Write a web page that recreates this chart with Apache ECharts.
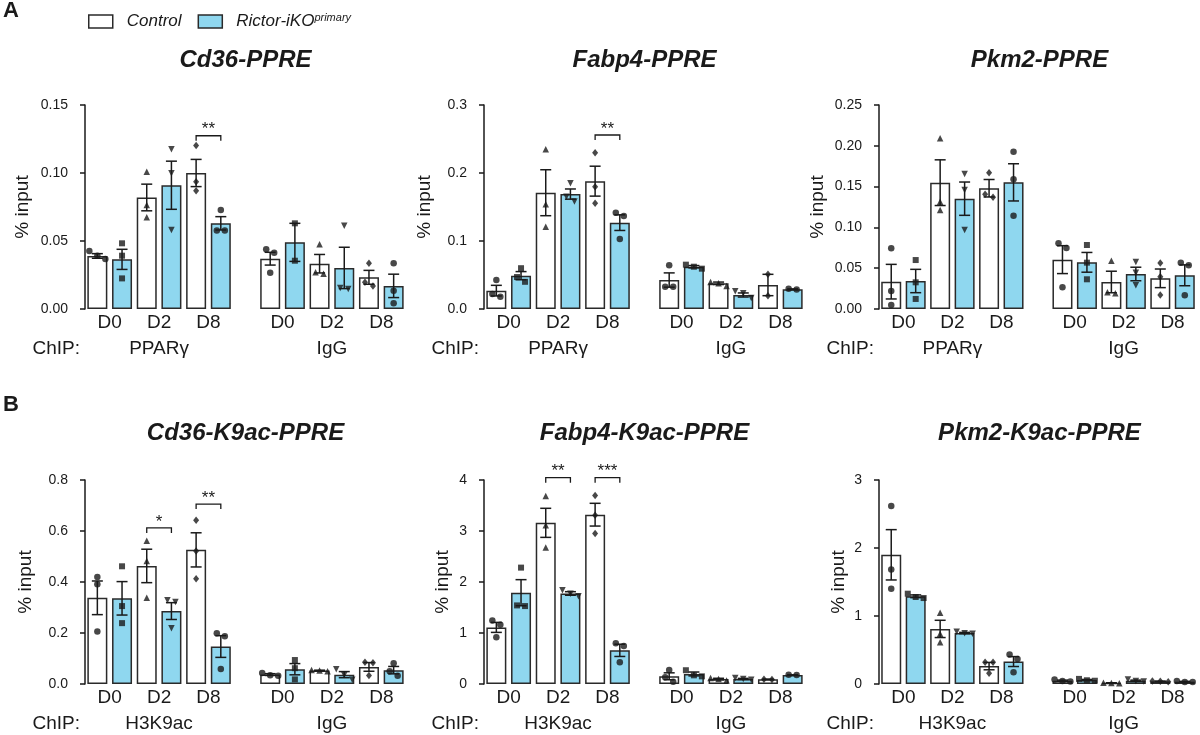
<!DOCTYPE html>
<html><head><meta charset="utf-8">
<script src="https://cdn.jsdelivr.net/npm/echarts@6/dist/echarts.min.js"></script>
<style>html,body{margin:0;padding:0;background:#fff}#c{width:1200px;height:735px}</style>
</head><body><div id="c"></div>
<script>
// ---------------- DATA ----------------
const timepoints = ['D0', 'D2', 'D8'];
const seriesNames = ['Control', 'Rictor-iKO'];
const chipTop = 'PPARγ';
const chipBottom = 'H3K9ac';
const chipIgG = 'IgG';
const panelTitles = ['Cd36-PPRE', 'Fabp4-PPRE', 'Pkm2-PPRE', 'Cd36-K9ac-PPRE', 'Fabp4-K9ac-PPRE', 'Pkm2-K9ac-PPRE'];
const yMaxes = [0.15, 0.3, 0.25, 0.8, 4, 3];
const ySteps = [0.05, 0.1, 0.05, 0.2, 1, 1];
const yDecimals = [2, 1, 2, 1, 0, 0];
// order in each array: [ChIP D0, D2, D8, IgG D0, D2, D8]
const cd36CtrlMean = [0.039, 0.082, 0.100, 0.037, 0.0333, 0.0233];
const cd36CtrlSem  = [0.0017, 0.0098, 0.010, 0.0047, 0.0068, 0.0051];
const cd36KoMean   = [0.0365, 0.091, 0.063, 0.049, 0.0302, 0.017];
const cd36KoSem    = [0.0074, 0.0177, 0.0049, 0.014, 0.0152, 0.0086];
const cd36CtrlPts  = [[0.0426,0.0392,0.0368],[0.101,0.0765,0.0674],[0.1203,0.0936,0.087],[0.0439,0.0414,0.0267],[0.0476,0.027,0.026],[0.0336,0.0196,0.0169]];
const cd36KoPts    = [[0.0483,0.0392,0.0225],[0.1174,0.0998,0.058],[0.0728,0.0578,0.0578],[0.063,0.0355],[0.0613,0.0154,0.0147],[0.0336,0.0135,0.0042]];

const fabp4CtrlMean = [0.027, 0.171, 0.188, 0.0426, 0.0378, 0.0353];
const fabp4CtrlSem  = [0.0078, 0.0338, 0.022, 0.0105, 0.0018, 0.0157];
const fabp4KoMean   = [0.049, 0.169, 0.127, 0.0622, 0.0206, 0.029];
const fabp4KoSem    = [0.006, 0.0075, 0.0115, 0.0017, 0.003, 0.0006];
const fabp4CtrlPts  = [[0.0426,0.022,0.0181],[0.2348,0.1539,0.1211],[0.2299,0.1799,0.1554],[0.0642,0.0328,0.0328],[0.0397,0.0378,0.0338],[0.051,0.0196]];
const fabp4KoPts    = [[0.060,0.047,0.040],[0.185,0.165,0.158],[0.1417,0.1368,0.1029],[0.0652,0.0622,0.0593],[0.026,0.023,0.0162],[0.0296,0.0285]];

const pkm2CtrlMean = [0.0335, 0.1548, 0.148, 0.0605, 0.0331, 0.0376];
const pkm2CtrlSem  = [0.0212, 0.028, 0.0107, 0.0171, 0.0132, 0.0114];
const pkm2KoMean   = [0.0343, 0.1352, 0.1552, 0.0572, 0.0429, 0.0413];
const pkm2KoSem    = [0.0143, 0.0204, 0.0228, 0.0121, 0.0083, 0.0128];
const pkm2CtrlPts  = [[0.0743,0.022,0.0049],[0.2092,0.1315,0.1213],[0.167,0.1405,0.1368],[0.0805,0.0748,0.0266],[0.0592,0.0204,0.0192],[0.0564,0.0396,0.0172]];
const pkm2KoPts    = [[0.060,0.0327,0.0123],[0.1654,0.1458,0.0968],[0.1928,0.1589,0.1144],[0.0784,0.0568,0.0364],[0.0576,0.0445,0.029],[0.0568,0.0535,0.0168]];

const cd36K9CtrlMean = [0.338, 0.463, 0.526, 0.037, 0.0527, 0.067];
const cd36K9CtrlSem  = [0.066, 0.0656, 0.067, 0.0035, 0.0015, 0.017];
const cd36K9KoMean   = [0.336, 0.286, 0.147, 0.058, 0.0367, 0.0543];
const cd36K9KoSem    = [0.0656, 0.033, 0.0426, 0.022, 0.012, 0.0145];
const cd36K9CtrlPts  = [[0.4197,0.3908,0.2059],[0.5613,0.4826,0.3384],[0.6426,0.522,0.4131],[0.043,0.034,0.032],[0.055,0.053,0.050],[0.085,0.083,0.033]];
const cd36K9KoPts    = [[0.4616,0.3056,0.2387],[0.328,0.3213,0.219],[0.1993,0.1875,0.059],[0.094,0.062,0.018],[0.058,0.035,0.017],[0.081,0.050,0.032]];

const fabp4K9CtrlMean = [1.11, 3.16, 3.32, 0.151, 0.097, 0.092];
const fabp4K9CtrlSem  = [0.098, 0.285, 0.223, 0.068, 0.015, 0.0025];
const fabp4K9KoMean   = [1.79, 1.775, 0.66, 0.197, 0.1, 0.177];
const fabp4K9KoSem    = [0.256, 0.035, 0.12, 0.038, 0.01, 0.0025];
const fabp4K9CtrlPts  = [[1.246,1.161,0.918],[3.685,3.115,2.675],[3.698,3.311,2.951],[0.275,0.131,0.046],[0.12,0.10,0.07],[0.095,0.09]];
const fabp4K9KoPts    = [[2.282,1.541,1.528],[1.84,1.77,1.72],[0.80,0.7475,0.426],[0.27,0.17,0.15],[0.118,0.098,0.085],[0.18,0.175]];

const pkm2K9CtrlMean = [1.9, 0.81, 0.263, 0.049, 0.015, 0.039];
const pkm2K9CtrlSem  = [0.37, 0.127, 0.054, 0.008, 0.003, 0.004];
const pkm2K9KoMean   = [1.29, 0.75, 0.33, 0.059, 0.049, 0.034];
const pkm2K9KoSem    = [0.02, 0.009, 0.073, 0.008, 0.008, 0.005];
const pkm2K9CtrlPts  = [[2.616,1.682,1.402],[1.048,0.738,0.615],[0.32,0.3197,0.157],[0.065,0.045,0.038],[0.02,0.015,0.01],[0.045,0.04,0.032]];
const pkm2K9KoPts    = [[1.328,1.279,1.264],[0.767,0.7475,0.738],[0.433,0.369,0.172],[0.075,0.055,0.048],[0.065,0.045,0.038],[0.045,0.03,0.028]];

// significance brackets
const sigPanels = [0, 1, 3, 3, 4, 4];
const sigTimes  = [2, 2, 1, 2, 1, 2];
const sigLevels = [0.1274, 0.2559, 0.612, 0.7055, 4.046, 4.046];
const sigLabels = ['**', '**', '*', '**', '**', '***'];

// ---------------- LAYOUT / STYLE ----------------
const FONT = '"Liberation Sans", Arial, Helvetica, sans-serif';
const INK = '#1a1a1a';
const BLUE = '#8fd7ef';
const gridLefts = [85, 484, 879];
const gridTops = [105, 480];
const gridHeight = 204;
const gridWidth = 321;
const nSlots = 13;
const ctrlSlots = [0, 2, 4, 7, 9, 11];
const koSlots = [1, 3, 5, 8, 10, 12];
const slotX = s => 2 * s + 1;           // x-axis value for a slot centre
const labelAt = {2: 0, 6: 1, 10: 2, 16: 0, 20: 1, 24: 2};
const nameGaps = [45, 42, 44, 42, 24, 23];
const symbolsCtrl = [['circle',0],['triangle',0],['diamond',0]];
const symbolsKo = [['rect',0],['triangle',180],['circle',0]];

const panels = [
  [cd36CtrlMean, cd36CtrlSem, cd36KoMean, cd36KoSem, cd36CtrlPts, cd36KoPts],
  [fabp4CtrlMean, fabp4CtrlSem, fabp4KoMean, fabp4KoSem, fabp4CtrlPts, fabp4KoPts],
  [pkm2CtrlMean, pkm2CtrlSem, pkm2KoMean, pkm2KoSem, pkm2CtrlPts, pkm2KoPts],
  [cd36K9CtrlMean, cd36K9CtrlSem, cd36K9KoMean, cd36K9KoSem, cd36K9CtrlPts, cd36K9KoPts],
  [fabp4K9CtrlMean, fabp4K9CtrlSem, fabp4K9KoMean, fabp4K9KoSem, fabp4K9CtrlPts, fabp4K9KoPts],
  [pkm2K9CtrlMean, pkm2K9CtrlSem, pkm2K9KoMean, pkm2K9KoSem, pkm2K9CtrlPts, pkm2K9KoPts]
];

// spread overlapping points horizontally (like Prism scatter)
function spreadOffsets(vals, yMax) {
  const pxPerUnit = gridHeight / yMax;
  const unitsPerPx = (2 * nSlots) / gridWidth;
  const idx = vals.map((v, i) => i).sort((a, b) => vals[b] - vals[a]);
  const clusters = [];
  let cur = [idx[0]];
  for (let j = 1; j < idx.length; j++) {
    if ((vals[cur[cur.length - 1]] - vals[idx[j]]) * pxPerUnit < 6) cur.push(idx[j]);
    else { clusters.push(cur); cur = [idx[j]]; }
  }
  clusters.push(cur);
  const off = new Array(vals.length).fill(0);
  clusters.forEach(c => c.forEach((i, j) => { off[i] = (j - (c.length - 1) / 2) * 8 * unitsPerPx; }));
  return off;
}

const grids = [], xAxes = [], yAxes = [], series = [], graphics = [];

panels.forEach((p, pi) => {
  const [cM, cS, kM, kS, cP, kP] = p;
  const row = pi < 3 ? 0 : 1;
  const col = pi % 3;
  const left = gridLefts[col], top = gridTops[row];
  grids.push({left: left, top: top, width: gridWidth, height: gridHeight});
  const chip = row === 0 ? chipTop : chipBottom;
  xAxes.push({
    type: 'value', gridIndex: pi, min: 0, max: 2 * nSlots, interval: 2,
    axisLine: {show: false}, axisTick: {show: false}, splitLine: {show: false},
    axisLabel: {margin: 4, fontSize: 19, fontFamily: FONT, color: INK,
      formatter: v => { const k = Math.round(v); return (k in labelAt) ? timepoints[labelAt[k]] : ''; }}
  });
  xAxes.push({
    type: 'value', gridIndex: pi, min: 0, max: 2 * nSlots, interval: 2, position: 'bottom', offset: 26,
    axisLine: {show: false}, axisTick: {show: false}, splitLine: {show: false},
    axisLabel: {margin: 4, fontSize: 19, fontFamily: FONT, color: INK,
      formatter: v => { const k = Math.round(v); return k === 6 ? chip : (k === 20 ? chipIgG : ''); }}
  });
  yAxes.push({
    type: 'value', gridIndex: pi, min: 0, max: yMaxes[pi], interval: ySteps[pi], offset: 8,
    name: '% input', nameLocation: 'middle', nameGap: nameGaps[pi],
    nameTextStyle: {fontSize: 19, fontFamily: FONT, color: INK},
    axisLine: {show: true, lineStyle: {color: INK, width: 1.5}},
    axisTick: {show: true, length: 5, lineStyle: {color: INK, width: 1.5}},
    splitLine: {show: false},
    axisLabel: {margin: 9, fontSize: 14, fontFamily: FONT, color: INK,
      formatter: v => v.toFixed(yDecimals[pi])}
  });
  const xi = 2 * pi;
  const barStyle = c => ({color: c, borderColor: '#2a2a2a', borderWidth: 1.5});
  series.push({
    type: 'bar', name: seriesNames[0], xAxisIndex: xi, yAxisIndex: pi, barWidth: 20, barGap: '-100%',
    itemStyle: barStyle('#ffffff'), silent: true, z: 2,
    data: cM.map((m, i) => [slotX(ctrlSlots[i]), m])
  });
  series.push({
    type: 'bar', name: seriesNames[1], xAxisIndex: xi, yAxisIndex: pi, barWidth: 20, barGap: '-100%',
    itemStyle: barStyle(BLUE), silent: true, z: 2,
    data: kM.map((m, i) => [slotX(koSlots[i]), m])
  });
  const errData = cM.map((m, i) => [slotX(ctrlSlots[i]), m, cS[i]]).concat(kM.map((m, i) => [slotX(koSlots[i]), m, kS[i]]));
  series.push({
    type: 'custom', xAxisIndex: xi, yAxisIndex: pi, silent: true, z: 3, clip: false,
    data: errData,
    renderItem: (params, api) => {
      const x = api.value(0), m = api.value(1), s = api.value(2);
      const t = api.coord([x, m + s]), b = api.coord([x, m - s]);
      const hw = 5.5, st = {stroke: INK, lineWidth: 1.5};
      return {type: 'group', children: [
        {type: 'line', shape: {x1: t[0], y1: t[1], x2: b[0], y2: b[1]}, style: st},
        {type: 'line', shape: {x1: t[0] - hw, y1: t[1], x2: t[0] + hw, y2: t[1]}, style: st},
        {type: 'line', shape: {x1: b[0] - hw, y1: b[1], x2: b[0] + hw, y2: b[1]}, style: st}
      ]};
    }
  });
  const pts = [];
  const addPts = (groups, slots, syms) => groups.forEach((vals, i) => {
    const off = spreadOffsets(vals, yMaxes[pi]);
    const sym = syms[i % 3];
    vals.forEach((v, j) => pts.push({
      value: [slotX(slots[i]) + off[j], v], symbol: sym[0], symbolRotate: sym[1],
      symbolSize: sym[0] === 'diamond' ? [6, 7.5] : (sym[0] === 'rect' ? 6 : 6.5)
    }));
  });
  addPts(cP, ctrlSlots, symbolsCtrl);
  addPts(kP, koSlots, symbolsKo);
  series.push({
    type: 'scatter', xAxisIndex: xi, yAxisIndex: pi, silent: true, z: 4,
    itemStyle: {color: INK}, data: pts
  });
  const brData = [], brLabels = [];
  sigPanels.forEach((sp, si) => {
    if (sp !== pi) return;
    const t = sigTimes[si];
    brData.push([slotX(ctrlSlots[t]), slotX(koSlots[t]), sigLevels[si]]);
    brLabels.push(sigLabels[si]);
  });
  if (brData.length) {
    series.push({
      type: 'custom', xAxisIndex: xi, yAxisIndex: pi, silent: true, z: 5, clip: false,
      data: brData,
      renderItem: (params, api) => {
        const a = api.coord([api.value(0), api.value(2)]);
        const b = api.coord([api.value(1), api.value(2)]);
        return {type: 'group', children: [
          {type: 'polyline', shape: {points: [[a[0], a[1] + 5], [a[0], a[1]], [b[0], b[1]], [b[0], b[1] + 5]]},
           style: {stroke: INK, lineWidth: 1.3, fill: null}},
          {type: 'text', x: (a[0] + b[0]) / 2, y: a[1] - 6,
           style: {text: brLabels[params.dataIndex], font: '17px ' + FONT, fill: INK,
                   align: 'center', verticalAlign: 'middle'}}
        ]};
      }
    });
  }
  graphics.push({type: 'text', x: left + gridWidth / 2, y: row === 0 ? 60 : 433,
    style: {text: panelTitles[pi], font: 'italic bold 24px ' + FONT, fill: INK, align: 'center', verticalAlign: 'middle'}});
  graphics.push({type: 'text', x: left - 5, y: top + gridHeight + 40,
    style: {text: 'ChIP:', font: '19px ' + FONT, fill: INK, align: 'right', verticalAlign: 'middle'}});
});

graphics.push({type: 'text', x: 3, y: 11, style: {text: 'A', font: 'bold 22px ' + FONT, fill: INK, align: 'left', verticalAlign: 'middle'}});
graphics.push({type: 'text', x: 3, y: 405, style: {text: 'B', font: 'bold 22px ' + FONT, fill: INK, align: 'left', verticalAlign: 'middle'}});

const chart = echarts.init(document.getElementById('c'), null, {renderer: 'canvas'});
chart.setOption({
  animation: false,
  backgroundColor: '#ffffff',
  grid: grids, xAxis: xAxes, yAxis: yAxes, series: series,
  graphic: {elements: graphics},
  legend: {
    left: 88, top: 12, padding: 0, itemWidth: 24, itemHeight: 13, itemGap: 16, selectedMode: false,
    data: [{name: seriesNames[0], icon: 'rect'}, {name: seriesNames[1], icon: 'rect'}],
    itemStyle: {borderColor: '#2a2a2a', borderWidth: 1.5},
    formatter: n => n === seriesNames[0] ? '{i|' + n + '}' : '{i|' + n + '}{s|primary}',
    textStyle: {padding: [0, 0, 0, 9], rich: {
      i: {fontStyle: 'italic', fontSize: 17, fontFamily: FONT, color: INK},
      s: {fontStyle: 'italic', fontSize: 11, fontFamily: FONT, color: INK, verticalAlign: 'top', padding: [0, 0, 8, 0]}
    }}
  }
});
</script></body></html>
